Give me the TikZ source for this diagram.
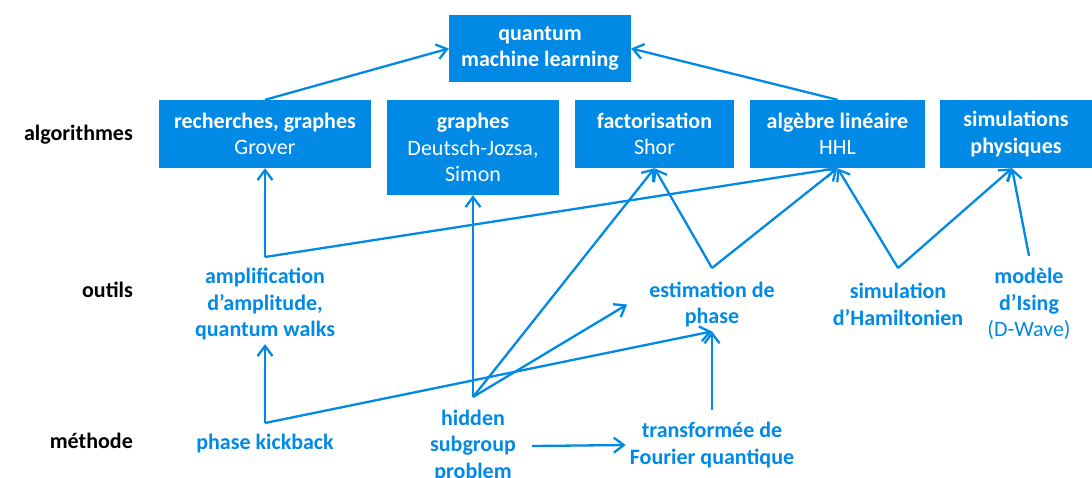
\documentclass[tikz,border=0pt]{standalone}
\usepackage{fontspec}
\setmainfont{Carlito}
\usetikzlibrary{arrows.meta}
\definecolor{qblue}{RGB}{0,137,229}
\tikzset{
  algobox/.style={fill=qblue, text=white, align=center, inner sep=0pt, font=\fontsize{22}{26.5}\selectfont},
  tool/.style={text=qblue, align=center, inner sep=4pt, font=\fontsize{22}{26.5}\selectfont\bfseries},
  level/.style={anchor=east, inner sep=0pt, font=\fontsize{22}{26.5}\selectfont\bfseries},
  link/.style={draw=qblue, line width=2.3pt, ->},
}
\begin{document}
\begin{tikzpicture}[x=1pt, y=-1pt, >={Straight Barb[length=10pt,width=15pt]}]
  \useasboundingbox (0,0) rectangle (1092,477);
  % Level names on the left
  \foreach \y/\name in {135/algorithmes, 290/outils, 441/méthode} {
    \node[level] at (133,\y) {\name};
  }

  % Draw algorithm boxes
  \node[algobox, minimum width=182pt, minimum height=67pt] (qml) at (540,48.5) {\textbf{quantum}\\\textbf{machine learning}};
  \node[algobox, minimum width=212pt, minimum height=68pt] (rech) at (265,134) {\textbf{recherches, graphes}\\Grover};
  \node[algobox, minimum width=172pt, minimum height=95pt] (graph) at (473,147.5) {\textbf{graphes}\\Deutsch-Jozsa,\\Simon};
  \node[algobox, minimum width=159pt, minimum height=68pt] (shor) at (654.5,134) {\textbf{factorisation}\\Shor};
  \node[algobox, minimum width=175pt, minimum height=68pt] (alg) at (837.5,134) {\textbf{algèbre linéaire}\\HHL};
  \node[algobox, minimum width=152pt, minimum height=68pt] (sim) at (1016,134) {\textbf{simulations}\\\textbf{physiques}};

  % Tools
  \node[tool] (amp) at (265,304) {amplification\\d’amplitude,\\quantum walks};
  \node[tool] (est) at (712,304.5) {estimation de\\phase};
  \node[tool] (ham) at (898,304.5) {simulation\\d’Hamiltonien};
  \node[tool] (isi) at (1029,304) {modèle\\d’Ising\\\mdseries(D-Wave)};

  % Methods
  \node[tool] (pk) at (265,444) {phase kickback};
  \node[tool] (hsp) at (473,446) {hidden\\subgroup\\problem};
  \node[tool] (tf) at (712,445) {transformée de\\Fourier quantique};

  % Branch points
  \coordinate (ampTop) at (265,257);
  \coordinate (estTop) at (712,268);
  \coordinate (hamTop) at (898,268);
  \coordinate (isiTop) at (1029,256);
  \coordinate (pkTop) at (265,423);
  \coordinate (hspTop) at (473,397);
  \coordinate (tfTop) at (712,410);

  % Draw connectors
  \draw[link] (rech.north) -- (qml.west);
  \draw[link] (alg.north) -- (qml.east);
  \draw[link] (ampTop) -- (rech.south);
  \draw[link] (ampTop) -- (alg.south);
  \draw[link] (estTop) -- (shor.south);
  \draw[link] (estTop) -- (alg.south);
  \draw[link] (hamTop) -- (alg.south);
  \draw[link] (hamTop) -- ([xshift=-4pt]sim.south);
  \draw[link] (isiTop) -- ([xshift=-4pt]sim.south);
  \draw[link] (pkTop) -- (amp.south);
  \draw[link] (pkTop) -- (est.south);
  \draw[link] (hspTop) -- (graph.south);
  \draw[link] (hspTop) -- (shor.south);
  \draw[link] (hspTop) -- ([xshift=-18pt]est.west);
  \draw[link] ([xshift=12pt]hsp.east) -- (tf.west);
  \draw[link] (tfTop) -- (est.south);
\end{tikzpicture}
\end{document}
